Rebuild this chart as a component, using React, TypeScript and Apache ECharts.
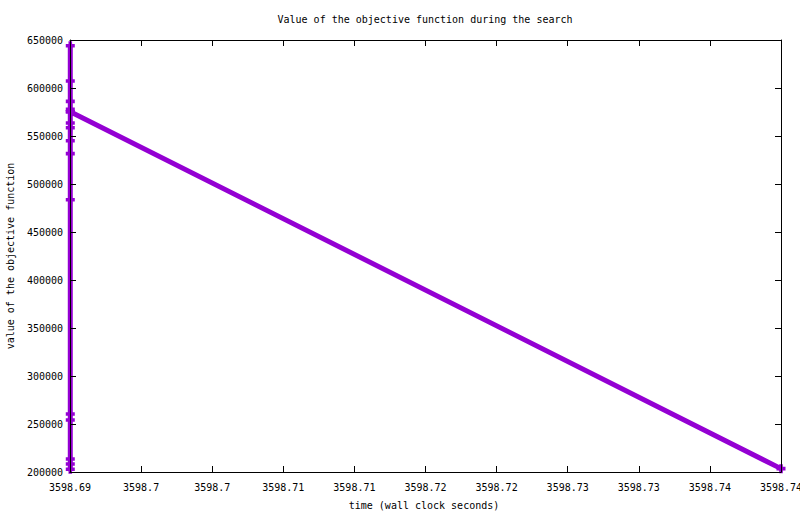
import React, { useEffect, useRef } from 'react';
import * as echarts from 'echarts';

// wall clock seconds and objective value of each evaluation
const times = [
  3598.69002, 3598.69002, 3598.69002, 3598.69002, 3598.69002, 3598.69002,
  3598.69002, 3598.69002, 3598.69002, 3598.69002, 3598.69002, 3598.69002,
  3598.69002, 3598.69002, 3598.69002, 3598.69002, 3598.74,
];
const values = [
  644000, 607300, 586100, 563500, 545100, 531600,
  483600, 260400, 254200, 213500, 208300, 202800,
  558600, 577800, 575300, 575300, 203500,
];

const xMin = 3598.69;
const xMax = 3598.74;
const xStep = 0.005;
const yMin = 200000;
const yMax = 650000;
const yStep = 50000;

const titleText = 'Value of the objective function during the search';
const xName = 'time (wall clock seconds)';
const yName = 'value of the objective function';

const font = 'DejaVu Sans Mono';
const purple = '#9400D3';
const plus = 'path://M3,0H7V3H10V7H7V10H3V7H0V3H3Z';

const fmtX = (v: number) => parseFloat((v + 1e-9).toPrecision(6)).toString();
const fmtY = (v: number) => String(Math.round(v));

const App: React.FC = () => {
  const chartRef = useRef<HTMLDivElement>(null);

  useEffect(() => {
    if (!chartRef.current) return;
    const chart = echarts.init(chartRef.current, undefined, { renderer: 'svg' });

    const axisLine = { show: true, lineStyle: { color: '#000', width: 1 } };
    const tick = { show: true, inside: true, length: 6, lineStyle: { color: '#000' } };
    const label = { fontFamily: font, fontSize: 10, color: '#000' };

    const option: any = {
      animation: false,
      backgroundColor: '#fff',
      grid: { left: 70, right: 19, top: 40, bottom: 42, containLabel: false, outerBoundsMode: 'none' },
      xAxis: [
        {
          type: 'value',
          min: xMin,
          max: xMax,
          interval: xStep,
          position: 'bottom',
          z: 5,
          axisLine,
          axisTick: tick,
          splitLine: { show: false },
          axisLabel: { ...label, margin: 10, formatter: fmtX },
        },
        {
          type: 'value',
          min: xMin,
          max: xMax,
          interval: xStep,
          position: 'top',
          z: 5,
          axisLine,
          axisTick: tick,
          splitLine: { show: false },
          axisLabel: { show: false },
        },
      ],
      yAxis: [
        {
          type: 'value',
          min: yMin,
          max: yMax,
          interval: yStep,
          position: 'left',
          z: 5,
          axisLine,
          axisTick: tick,
          splitLine: { show: false },
          axisLabel: { ...label, margin: 7, formatter: fmtY },
        },
        {
          type: 'value',
          min: yMin,
          max: yMax,
          interval: yStep,
          position: 'right',
          z: 5,
          axisLine,
          axisTick: tick,
          splitLine: { show: false },
          axisLabel: { show: false },
        },
      ],
      series: [
        {
          type: 'line',
          xAxisIndex: 0,
          yAxisIndex: 0,
          clip: false,
          data: times.map((t, i) => [t, values[i]]),
          symbol: plus,
          symbolSize: 9,
          showAllSymbol: true,
          itemStyle: { color: purple },
          lineStyle: { color: purple, width: 5 },
        },
      ],
      graphic: [
        {
          type: 'text',
          x: 425,
          y: 19,
          style: { text: titleText, fontFamily: font, fontSize: 10, fill: '#000', align: 'center', verticalAlign: 'middle' },
        },
        {
          type: 'text',
          x: 424,
          y: 505,
          style: { text: xName, fontFamily: font, fontSize: 10, fill: '#000', align: 'center', verticalAlign: 'middle' },
        },
        {
          type: 'text',
          x: 10,
          y: 256,
          rotation: Math.PI / 2,
          style: { text: yName, fontFamily: font, fontSize: 10, fill: '#000', align: 'center', verticalAlign: 'middle' },
        },
      ],
    };

    chart.setOption(option);
    return () => chart.dispose();
  }, []);

  return (
    <div
      ref={chartRef}
      style={{ position: 'fixed', left: 0, top: 0, width: 800, height: 514, background: '#fff' }}
    />
  );
};

export default App;
